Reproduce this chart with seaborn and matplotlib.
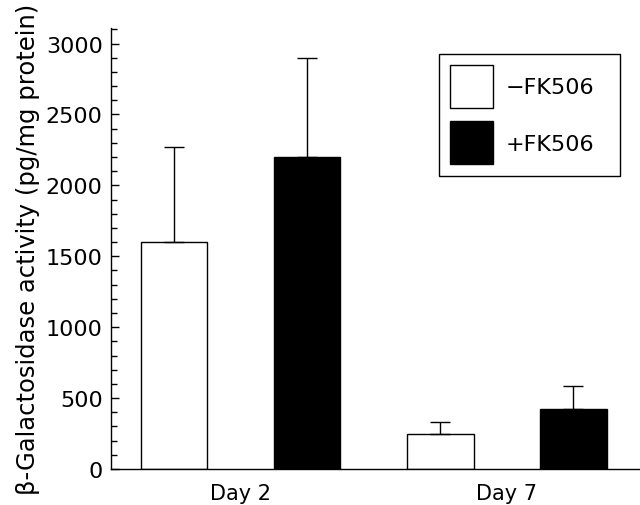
import matplotlib
matplotlib.use('Agg')
import matplotlib.pyplot as plt
import seaborn as sns
import pandas as pd
from matplotlib.ticker import MultipleLocator

days = ['Day 2', 'Day 2', 'Day 7', 'Day 7']
treatment = ['\u2212FK506', '+FK506', '\u2212FK506', '+FK506']
activity = [1600, 2200, 250, 420]
err_upper = [670, 700, 80, 165]

df = pd.DataFrame({'day': days, 'treatment': treatment, 'activity': activity})

sns.set_style('ticks')
plt.rcParams['font.family'] = ['DejaVu Sans']
plt.rcParams['text.color'] = 'black'
plt.rcParams['axes.labelcolor'] = 'black'
plt.rcParams['xtick.color'] = 'black'
plt.rcParams['ytick.color'] = 'black'

fig = plt.figure(figsize=(6.4, 5.06), dpi=100)
ax = fig.add_axes([0.1734, 0.0711, 0.8266, 0.8716])

sns.barplot(data=df, x='day', y='activity', hue='treatment',
            palette=['white', 'black'], edgecolor='black', linewidth=1,
            width=1.0, gap=0.5, errorbar=None, ax=ax, legend=True)

# upward-only error bars at the bar centres
bars = [p for p in ax.patches if p.get_height() > 0]
bars = sorted(bars, key=lambda p: p.get_x())
for p, v, e in zip(bars, activity, err_upper):
    xc = p.get_x() + p.get_width() / 2
    ax.errorbar(xc, v, yerr=[[0], [e]], fmt='none', ecolor='black',
                elinewidth=1, capsize=7.5, capthick=1)

ax.set_xlim(-0.486, 1.5)
ax.set_ylim(0, 3110)
ax.yaxis.set_major_locator(MultipleLocator(500))
ax.yaxis.set_minor_locator(MultipleLocator(100))
ax.tick_params(axis='y', which='major', direction='in', length=6, width=1,
               labelsize=16, pad=6, colors='black')
ax.tick_params(axis='y', which='minor', direction='in', length=4.5, width=1, colors='black')
ax.tick_params(axis='x', length=0, labelsize=15, pad=10, colors='black')
ax.set_xlabel('')
ax.set_ylabel('\u03b2-Galactosidase activity (pg/mg protein)', fontsize=17.5, labelpad=4)
for s in ['top', 'right']:
    ax.spines[s].set_visible(False)
for s in ['left', 'bottom']:
    ax.spines[s].set_linewidth(1)
    ax.spines[s].set_color('black')

ax.legend(title=None, loc='upper left',
          bbox_to_anchor=(439 / 640, 1 - 177 / 506, 181 / 640, 122 / 506),
          bbox_transform=fig.transFigure, mode='expand',
          fontsize=16, frameon=True, fancybox=False,
          edgecolor='black', framealpha=1, handlelength=1.95, handleheight=2.6,
          labelspacing=0.6, handletextpad=0.55, borderpad=0.5, borderaxespad=0)
ax.get_legend().get_frame().set_linewidth(1)

fig.savefig('out.png', dpi=100)
